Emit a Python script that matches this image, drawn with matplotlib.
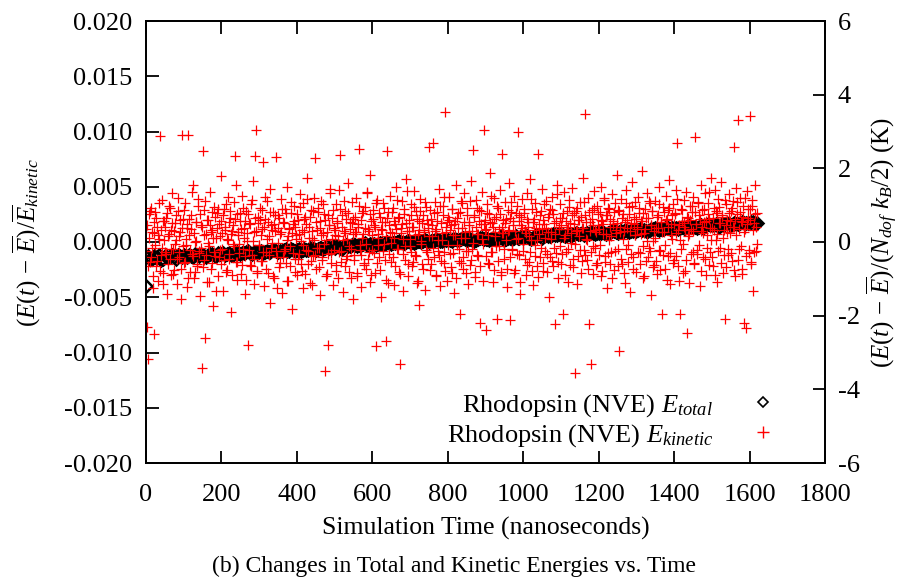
import numpy as np
import matplotlib
matplotlib.use('Agg')
import matplotlib.pyplot as plt
from matplotlib.lines import Line2D

# ---- style ---------------------------------------------------------------
plt.rcParams.update({
    "font.family": ["Liberation Serif", "DejaVu Serif"],
    "mathtext.fontset": "custom",
    "mathtext.rm": "Liberation Serif",
    "mathtext.it": "Liberation Serif:italic",
    "mathtext.bf": "Liberation Serif:bold",
    "axes.unicode_minus": False,
    "font.size": 19,
})

# ---- data (energies in units of 1e-4) ------------------------------------
# total energy, sampled every 10 ns from 0 to 1620 ns
etot_step_ns = 10.0
etot_1e4 = [
    -14, -15, -13, -14, -16, -13, -14, -12, -15, -13,
    -12, -14, -13, -11, -13, -12, -14, -11, -12, -10,
    -11, -12, -10, -12, -9, -11, -10, -8, -11, -9,
    -9, -10, -8, -9, -7, -9, -8, -6, -8, -7,
    -7, -8, -6, -7, -5, -7, -5, -6, -4, -5,
    -5, -4, -6, -3, -4, -2, -4, -3, -1, -3,
    -2, -3, -1, -2, 0, -2, -1, 1, -1, 0,
    0, -1, 1, 0, 2, 0, 1, 3, 1, 2,
    2, 1, 3, 2, 4, 2, 3, 1, 3, 4,
    3, 2, 4, 3, 5, 2, 4, 3, 5, 4,
    4, 5, 3, 5, 6, 4, 6, 5, 7, 6,
    6, 5, 7, 6, 8, 7, 6, 8, 9, 7,
    8, 9, 7, 9, 10, 8, 10, 11, 9, 10,
    10, 12, 11, 10, 12, 13, 11, 12, 14, 12,
    13, 12, 14, 13, 15, 14, 13, 15, 14, 16,
    15, 16, 14, 16, 17, 15, 17, 16, 18, 17,
    17, 18, 17,
]
# in-between samples of the total energy (5, 15, ... 1615 ns)
etot_mid_1e4 = [
    -13, -15, -14, -12, -15, -14, -13, -14, -12, -14,
    -13, -12, -14, -12, -11, -13, -12, -11, -13, -11,
    -10, -11, -12, -9, -10, -10, -9, -10, -9, -10,
    -8, -9, -9, -7, -8, -8, -7, -8, -6, -8,
    -6, -7, -7, -5, -6, -6, -5, -5, -5, -4,
    -4, -5, -4, -4, -3, -3, -3, -2, -3, -2,
    -2, -2, -2, -1, -1, -1, 0, 0, -1, 1,
    0, 0, 1, 1, 1, 1, 2, 2, 1, 2,
    2, 3, 2, 3, 3, 3, 2, 2, 4, 3,
    3, 3, 3, 4, 4, 3, 4, 4, 4, 5,
    5, 4, 4, 6, 5, 5, 5, 6, 6, 7,
    6, 6, 6, 7, 7, 8, 7, 7, 8, 8,
    8, 8, 8, 10, 9, 9, 9, 10, 10, 11,
    11, 11, 10, 11, 12, 12, 12, 13, 13, 13,
    13, 13, 13, 14, 14, 14, 14, 14, 15, 15,
    15, 15, 15, 16, 16, 16, 16, 17, 17, 17,
    18, 17,
]
# first sample of the total energy (outlier at t = 0)
etot_first_t = 0.0
etot_first_1e4 = -40

# kinetic energy, sampled every 2.5 ns from 0 ns
ekin_step_ns = 2.5
ekin_1e4 = [
    12, -77, -106, 25, -18, 31, -5, -42, -83, 8, 27, -22, 14, -35, 3, 96, -12, 38, -28, 19,
    -9, 22, -47, 5, 33, -15, -30, 11, 44, -6, -25, 17, 2, -38, 28, -14, 9, -52, 97, 21,
    -19, 35, -3, 13, -41, 97, 6, -27, 24, -11, 52, -33, 0, 18, -22, 39, -8, -49, 15, -114,
    82, -16, 29, -87, 7, -36, 20, -4, 45, -24, 11, -58, 32, -13, 4, 26, -31, 16, -7, 60,
    -20, 8, -44, 30, 14, -27, 3, 41, -15, 22, -63, 10, -2, 36, 78, -18, 25, -34, 6, -10,
    19, -29, 42, -6, 13, -47, 28, 1, -93, 17, -21, 34, -12, 55, -38, 9, 78, 101, -26, 23,
    -3, 31, -17, 12, 72, -40, 21, -9, 37, -28, 5, 48, -55, 15, -1, 27, -33, 10, 77, -14,
    24, -23, 7, 39, -46, 18, -8, 30, -19, 2, 50, -35, 13, -4, 26, -61, 16, 33, -15, 6,
    -30, 20, -11, 43, 1, -26, 35, -42, 9, 23, -7, 58, -20, 14, -37, 29, 4, -13, 40, 76,
    -24, 11, 31, -5, -48, 19, 37, -16, 8, 25, -117, 2, -29, -93, 15, 44, -10, 22, -39, 13,
    6, -21, 34, 17, -33, 47, 79, -8, 24, -45, 10, 28, -15, 3, 53, -27, 18, -6, 36, -52,
    21, -12, 9, 40, -31, 14, 84, -3, -41, 26, 7, -19, 32, -24, 45, 12, -9, 61, -36, 19,
    -7, 29, 15, -28, -94, 38, 4, -14, 23, -50, 11, 35, -2, 18, -34, -90, 82, 27, -11, 42,
    -18, 8, 31, -39, 16, 50, -6, 22, -27, -110, 13, 37, -44, 3, 25, -16, 57, 10, -31, 20,
    -4, 34, -22, 14, 46, -12, 28, -37, 7, 19, -57, 39, 1, -20, 24, 11, -43, 32, -9, 16,
    86, -25, 21, 5, 90, -14, 36, -30, 12, 27, -8, 48, -40, 17, 2, 33, -19, 118, 9, -35,
    23, 41, -11, 15, -28, 30, 6, -46, 19, 52, -3, 26, -17, -65, 37, 13, -24, 44, 4, -8,
    31, -38, 18, 10, -21, 55, -6, 83, 24, -32, 38, 7, -13, 29, -73, 16, 45, -2, 101, 20,
    -80, 12, 34, -19, 25, 62, -9, 17, -36, 40, 5, 23, -70, 31, -4, 47, -27, 14, 80, 8,
    -15, 36, 21, -41, 10, 53, -71, 27, -6, 19, 42, -25, 3, 33, 100, -12, 24, -47, 15, 39,
    -8, 26, 11, -30, 44, 18, -18, 57, 2, 30, -39, 21, -3, 35, 13, -22, 80, 7, -14, 28,
    48, -26, 16, 4, 37, -11, 23, -50, 30, 9, 41, -17, 25, -5, -74, 19, 52, -33, 12, 34,
    -20, 22, -65, 45, 6, -9, 28, 14, -36, 38, 17, -1, 49, -23, 26, -119, 10, 31, -13, 20,
    36, -28, 13, 58, -7, 24, 116, 3, -16, 40, -74, 18, -110, 29, -4, 46, 11, -21, 33, 15,
    -12, 27, 50, -31, 19, 7, 38, -18, 24, -42, 31, 2, 21, -9, 43, 16, -25, 35, 8, 61,
    -6, 29, -99, 14, 39, -20, 25, 10, -37, 47, 20, -3, 32, -45, 17, 54, -14, 23, 6, 36,
    -27, 12, 41, 26, -10, 19, 64, -33, 8, 30, -17, 44, 22, -5, 35, -48, 15, 28, 1, -21,
    37, 13, -29, 24, 50, -8, 18, -65, 32, 9, -24, 42, 21, -13, 29, 56, -38, 16, 3, 34,
    -16, 25, 47, 90, 11, -35, -65, 30, 19, -2, 38, 14, -26, 45, -82, 22, 7, 33, -11, 27,
    41, -19, 95, 16, -7, 36, 24, -40, 52, 10, 29, -14, 18, 44, -30, 6, 35, 21, -9, 58,
    13, -22, 31, 47, 2, 26, -36, 39, 17, -5, 54, 23, -28, 11, -70, 34, 20, -12, 43, 8,
    28, -17, 37, 86, 14, -31, 49, 25, 110, -6, 40, 19, -24, 33, -73, 12, -78, 46, 22, -10,
    114, 30, -20, 38, -44, 17, 52, -8, 26,
]
# in-between samples of the kinetic energy (1.25, 3.75, ... ns)
ekin_mid_1e4 = [
    -8, 15, -22, 4, 28, -14, 9, -31, 18, -3, 22, -17, 6, 35, -26, 11, -5, 19, -38, 2,
    14, -11, 26, -20, 7, 31, -6, 17, -29, 10, -2, 24, -15, 40, -9, 5, 20, -24, 13, -4,
    29, -18, 3, 16, -33, 21, -7, 12, 45, -13, 8, -27, 18, 1, -20, 33, -10, 25, -5, 14,
    -23, 6, 37, -12, 20, -1, -36, 15, 9, -19, 27, 4, -9, 23, -44, 13, 30, -14, 5, 19,
    -6, 24, -16, 11, 34, -25, 2, 18, -11, 28, 7, -30, 15, -4, 21, 52, -18, 9, -2, 26,
    12, -21, 31, 4, -13, 19, -34, 8, 25, -7, 16, -22, 38, 1, -15, 22, 10, -28, 17, -3,
    20, 6, -17, 29, -9, 14, 41, -24, 3, 18, -12, 27, -5, 11, -31, 16, 24, -8, -42, 13,
    -1, 22, -19, 9, 30, -14, 17, -6, 26, -35, 5, 12, -22, 36, 8, -10, 19, -27, 14, 3,
    25, -15, 7, 32, -20, 11, -3, 21, -29, 16, 39, -8, 4, 23, -17, 10, -39, 28, 2, -12,
    18, -5, 27, -23, 13, 6, -14, 34, -2, 20, -31, 9, 24, -11, 15, 48, -19, 3, 29, -7,
    11, -26, 19, 5, -9, 30, -18, 14, 2, 37, -22, 8, 21, -13, 26, -4, 12, -33, 17, 7,
    -16, 23, 9, -28, 16, 33, -7, 20, -12, 4, 28, -21, 13, -2, 44, -15, 10, 25, -30, 6,
    21, -10, 14, 35, -19, 7, -3, 26, -25, 12, 18, -8, 31, -16, 5, 22, -37, 15, 9, -1,
    27, -14, 4, 19, -22, 12, 38, -6, 23, -29, 8, 16, -11, 30, -4, 17, 46, -20, 10, 3,
    -9, 24, 14, -18, 32, 6, -13, 21, -35, 11, 28, -2, 17, -24, 9, 36, -7, 20, -15, 13,
    5, 29, -20, 15, -5, 26, 10, -31, 19, 2, -12, 33, -17, 8, 24, -9, 41, -26, 14, 18,
    -3, 20, 11, -23, 30, -10, 16, 6, -33, 22, 13, -6, 27, -19, 4, 35, -14, 18, 9, -28,
    24, -8, 15, 37, -16, 10, -1, 23, -27, 14, 31, -12, 7, 19, -22, 28, 3, -35, 16, 11,
    -13, 26, 6, -20, 18, 42, -9, 14, -25, 21, 9, -4, 33, -17, 12, 25, -30, 8, 20, -6,
    17, 2, -24, 29, 11, -14, 22, 36, -7, 15, -28, 10, 26, -11, 4, 19, -36, 23, 13, -2,
    30, -15, 8, 21, -21, 14, 5, -9, 39, -26, 18, 11, -13, 27, 2, -32, 16, 24, -5, 12,
    -19, 20, 34, -8, 13, -27, 9, 25, -14, 3, 29, -22, 17, 7, -10, 43, -18, 14, 22, -4,
    15, -11, 26, 4, -30, 19, 12, -6, 32, -21, 8, 24, -15, 16, -2, 28, -38, 11, 20, 5,
    -7, 23, -17, 13, 36, -12, 18, 2, -24, 27, 10, -9, 21, -29, 15, 31, -5, 9, -19, 25,
    12, -3, 20, -26, 16, 40, -13, 7, 24, -10, 30, -20, 14, 5, -33, 19, 27, -8, 11, 17,
    -22, 28, 9, -15, 22, 3, -28, 18, 35, -6, 13, -18, 25, 10, -11, 33, -24, 16, 6, 21,
    14, -9, 31, -20, 7, 19, -4, 26, -31, 12, 22, 1, -14, 37, -8, 15, 28, -23, 10, 4,
    -17, 23, 13, -7, 34, -25, 18, 9, -12, 27, -3, 20, -34, 14, 31, -10, 6, 24, -19, 16,
    26, -13, 8, 39, -22, 15, 2, -6, 29, -28, 17, 11, -16, 23, 5, -37, 20, 12, 33, -9,
    10, -20, 27, 16, -11, 35, -3, 21, -26, 14, 8, 30, -15, 19, -5, 25, 45, -21, 13, 2,
    -14, 22, 11, -30, 28, 7, -8, 32, 17, -19, 24, 4, -12, 38, -23, 15, 9, -6, 26, 19,
    -10, 31, 14, -25, 21, 6, 36, -16, 12, 27, -4, 18, -29, 23, 9, 40, -13, 16, 30, -7,
    20, -18, 33, 11, -9, 25, 14, -2,
]

x_ticks = [0, 200, 400, 600, 800, 1000, 1200, 1400, 1600, 1800]
y_ticks = [-0.020, -0.015, -0.010, -0.005, 0.000, 0.005, 0.010, 0.015, 0.020]
y2_ticks = [-6, -4, -2, 0, 2, 4, 6]

# ---- build series --------------------------------------------------------
etot_t = np.concatenate(([etot_first_t],
                         np.arange(len(etot_1e4)) * etot_step_ns,
                         np.arange(len(etot_mid_1e4)) * etot_step_ns + etot_step_ns / 2))
etot = np.concatenate(([etot_first_1e4], etot_1e4, etot_mid_1e4)) * 1e-4

ekin_t = np.concatenate((np.arange(len(ekin_1e4)) * ekin_step_ns,
                         np.arange(len(ekin_mid_1e4)) * ekin_step_ns + ekin_step_ns / 2))
ekin = np.concatenate((ekin_1e4, ekin_mid_1e4)) * 1e-4

# ---- plot ----------------------------------------------------------------
fig = plt.figure(figsize=(9.08, 5.78), dpi=100)
ax = fig.add_axes([146/908, 115/578, 679/908, 442/578])

ax.plot(etot_t, etot, ls='none', marker='D', ms=6.0, mfc='none',
        mec='black', mew=1.8, zorder=3)
ax.plot(ekin_t, ekin, ls='none', marker='+', ms=7.5, mec='#ff0000',
        mew=0.9, zorder=4)

ax.set_xlim(0, 1800)
ax.set_ylim(-0.02, 0.02)
ax.set_xticks(x_ticks)
ax.set_yticks(y_ticks)
ax.set_yticklabels([f"{v:.3f}" for v in y_ticks])
ax.tick_params(direction='in', length=9, width=1.3, top=True, right=False,
               labelsize=19, pad=10)
ax.tick_params(axis='x', pad=15)
for s in ax.spines.values():
    s.set_linewidth(1.3)

ax2 = ax.twinx()
ax2.set_ylim(-6, 6)
ax2.set_yticks(y2_ticks)
ax2.tick_params(direction='in', length=9, width=1.3, labelsize=19, pad=9)
for s in ax2.spines.values():
    s.set_linewidth(1.3)

ax.set_xlabel("Simulation Time (nanoseconds)", fontsize=18.5, labelpad=8)
ax.set_ylabel(r"$(E(t)\,-\,\overline{E})/\overline{E}_{kinetic}$", fontsize=18,
              ha='center', va='center')
ax.yaxis.set_label_coords(-0.175, 0.5)
ax2.set_ylabel(r"$(E(t)\,-\,\overline{E})/(N_{dof}\ k_B/2)$ (K)", fontsize=18,
               ha='center', va='center')
ax2.yaxis.set_label_coords(1.084, 0.5)

handles = [
    Line2D([], [], ls='none', marker='D', ms=5.5, mfc='none', mec='black', mew=1.2),
    Line2D([], [], ls='none', marker='+', ms=8, mec='#ff0000', mew=1.0),
]
labels = [r"Rhodopsin (NVE) $E_{total}$", r"Rhodopsin (NVE) $E_{kinetic}$"]
ax2.legend(handles, labels, loc='lower right', bbox_to_anchor=(0.948, 0.002),
           frameon=False, markerfirst=False, handlelength=1.0,
           handletextpad=1.4, labelspacing=0.12, borderpad=0, fontsize=19)

fig.text(0.5, 12/578, "(b) Changes in Total and Kinetic Energies vs. Time",
         ha='center', va='center', fontsize=17)

fig.savefig("out.png", dpi=100)
